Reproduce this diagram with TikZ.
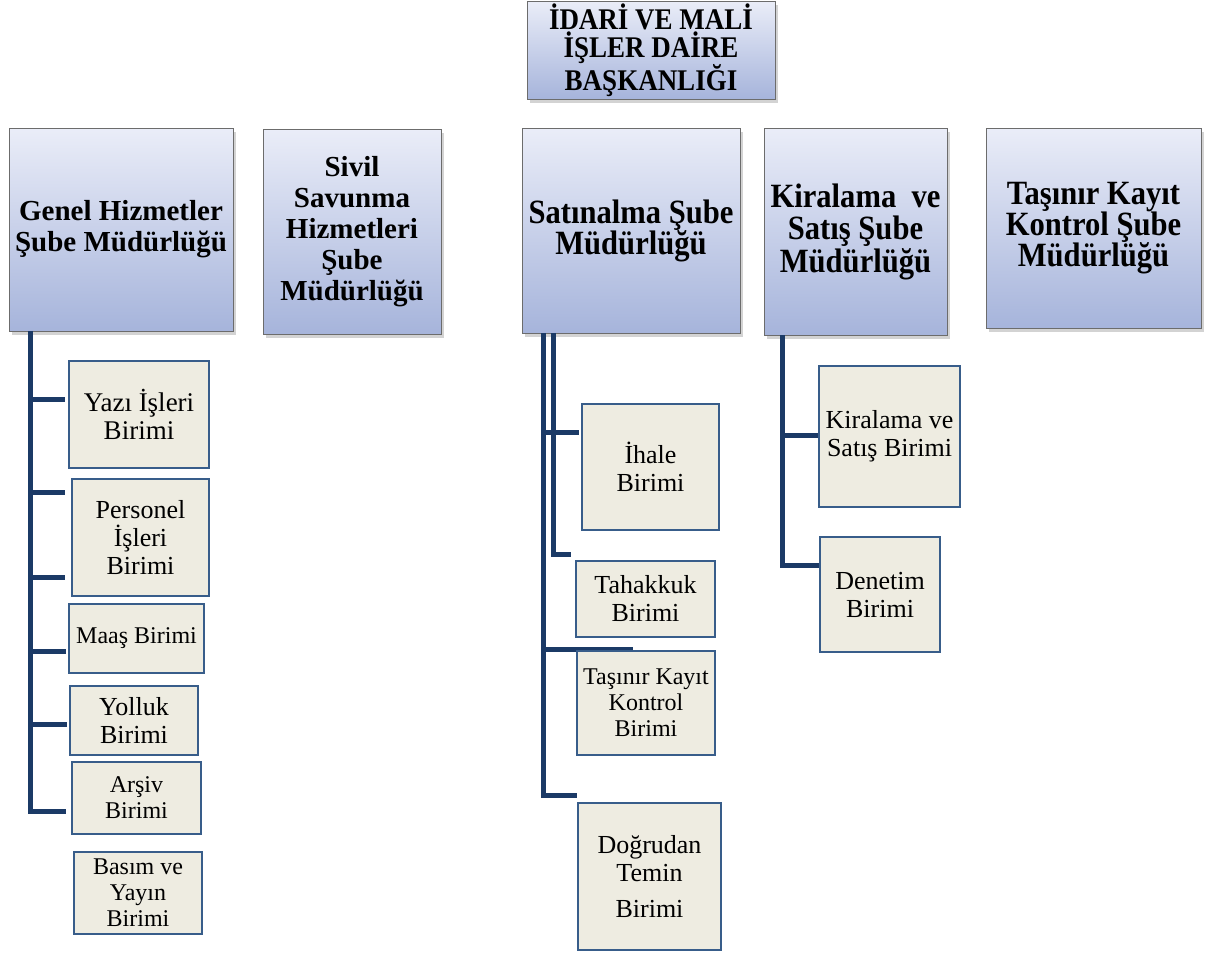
\documentclass[tikz,border=0pt]{standalone}
\usepackage{fontspec}
\setmainfont{Liberation Serif}
\newfontfamily\narrowserif[FakeStretch=0.9]{Liberation Serif}
\usetikzlibrary{shadows,positioning}
\definecolor{headtop}{RGB}{234,237,248}
\definecolor{headbot}{RGB}{166,180,219}
\definecolor{unitfill}{RGB}{238,236,225}
\definecolor{unitline}{RGB}{56,93,138}
\definecolor{linkblue}{RGB}{27,58,102}

\begin{document}
\begin{tikzpicture}[x=1pt,y=-1pt,
every node/.style={inner sep=0pt,align=center},
dims/.style 2 args={minimum width=#1pt,minimum height=#2pt},
head/.style={draw=gray!85!black,line width=0.8pt,top color=headtop,bottom color=headbot,
  drop shadow={shadow xshift=3pt,shadow yshift=-4pt,opacity=0.35},
  font=\fontsize{29}{31}\selectfont\bfseries},
narrowhead/.style={head,font=\narrowserif\fontsize{34}{31}\selectfont\bfseries},
unit/.style={draw=unitline,line width=1.6pt,fill=unitfill,font=\fontsize{26}{28}\selectfont},
smallunit/.style={unit,font=\fontsize{24}{26}\selectfont},
link/.style={draw=linkblue,line width=5pt}]
\useasboundingbox (0,0) rectangle (1214,953);
\node[head,dims={248}{98},font=\narrowserif\fontsize{30}{28}\selectfont\bfseries] (D) at (651,50) {İDARİ VE MALİ\\İŞLER DAİRE\\BAŞKANLIĞI};
\node[head,dims={224}{203}] (G) at (121,229.5) {Genel Hizmetler\\Şube Müdürlüğü};
\node[head,dims={178}{205}] (S) at (352,231.5) {Sivil\\Savunma\\Hizmetleri\\Şube\\Müdürlüğü};
\node[narrowhead,dims={218}{205}] (N) at (631,230.5) {Satınalma Şube\\Müdürlüğü};
\node[narrowhead,dims={183}{207},font=\narrowserif\fontsize{34}{32.5}\selectfont\bfseries] (K) at (855.5,231.5) {Kiralama\ \ ve\\Satış Şube\\Müdürlüğü};
\node[narrowhead,dims={215}{200}] (T) at (1093.5,228) {Taşınır Kayıt\\Kontrol Şube\\Müdürlüğü};
\path (G.south west) ++(22,0) coordinate (ga);
\path (N.south west) ++(22,0) coordinate (na);
\path (N.south west) ++(32,0) coordinate (nb);
\path (K.south west) ++(19,0) coordinate (ka);
\coordinate (g1) at (65,399);
\coordinate (g2) at (65,492);
\coordinate (g3) at (65,577);
\coordinate (g4) at (66,651);
\coordinate (g5) at (67,724);
\coordinate (g6) at (66,811);
\coordinate (n1) at (579,432);
\coordinate (n2) at (571,554);
\coordinate (n3) at (633,649);
\coordinate (n4) at (577,795);
\coordinate (k1) at (819,435);
\coordinate (k2) at (820,565);
\draw[link] (ga) |- (g6);
\foreach \i in {1,...,5} \draw[link] (g\i -| ga) -- (g\i);
\draw[link] (na) |- (n4);
\draw[link] (nb) |- (n2);
\draw[link] (n1 -| na) -- (n1);
\draw[link] (n3 -| na) -- (n3);
\draw[link] (ka) |- (k2);
\draw[link] (k1 -| ka) -- (k1);
\node[unit,dims={140}{107},font=\fontsize{27}{28}\selectfont] (G1) at (139,414.5) {Yazı İşleri\\Birimi};
\node[unit,dims={137}{117}] (G2) at (140.5,537.5) {Personel\\İşleri\\Birimi};
\node[smallunit,dims={135}{69}] (G3) at (136.5,638.5) {Maaş Birimi};
\node[unit,dims={128}{69}] (G4) at (134,720.5) {Yolluk\\Birimi};
\node[smallunit,dims={129}{72}] (G5) at (136.5,798) {Arşiv\\Birimi};
\node[smallunit,dims={128}{82}] (G6) at (138,893) {Basım ve\\Yayın\\Birimi};
\node[unit,dims={137}{126}] (N1) at (650.5,467) {İhale\\Birimi};
\node[unit,dims={139}{76}] (N2) at (645.5,599) {Tahakkuk\\Birimi};
\node[smallunit,dims={138}{104}] (N3) at (646,703) {Taşınır Kayıt\\Kontrol\\Birimi};
\node[unit,dims={143}{147}] (N4) at (649.5,876.5) {Doğrudan\\Temin\\[8pt]Birimi};
\node[unit,dims={141}{141}] (K1) at (889.5,436.5) {Kiralama ve\\Satış Birimi};
\node[unit,dims={120}{115}] (K2) at (880,594.5) {Denetim\\Birimi};
\end{tikzpicture}
\end{document}
